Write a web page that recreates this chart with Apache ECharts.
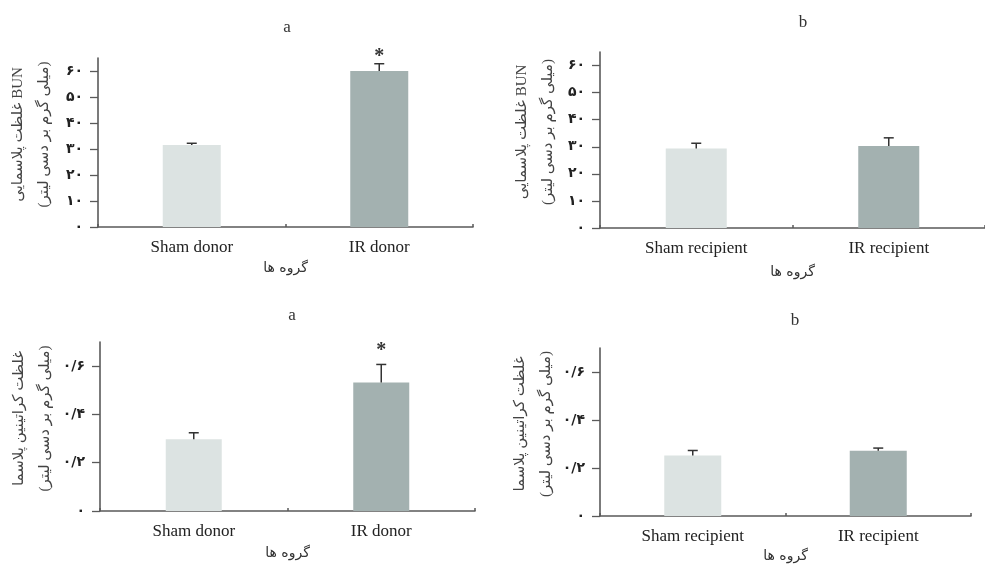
<!DOCTYPE html>
<html>
<head>
<meta charset="utf-8">
<script src="https://cdn.jsdelivr.net/npm/echarts@6/dist/echarts.min.js"></script>
<style>html,body{margin:0;padding:0;background:#fff}#c{width:985px;height:565px}</style>
</head>
<body>
<div id="c"></div>
<script>
// ---- data ----
const donorCategories = ['Sham donor', 'IR donor'];
const recipientCategories = ['Sham recipient', 'IR recipient'];
const bunDonorMean = [31.5, 60.0];
const bunDonorErr = [0.7, 2.8];
const bunRecipientMean = [29.4, 30.3];
const bunRecipientErr = [1.9, 3.0];
const creDonorMean = [0.297, 0.532];
const creDonorErr = [0.027, 0.075];
const creRecipientMean = [0.252, 0.272];
const creRecipientErr = [0.021, 0.011];
const donorStars = ['', '*'];
const recipientStars = ['', ''];
const bunTicks = [0, 10, 20, 30, 40, 50, 60];
const bunTickLabels = ['۰', '۱۰', '۲۰', '۳۰', '۴۰', '۵۰', '۶۰'];
const creTicks = [0, 0.2, 0.4, 0.6];
const creTickLabels = ['۰', '۰/۲', '۰/۴', '۰/۶'];
const panelTitles = ['a', 'b', 'a', 'b'];
const xAxisName = 'گروه ها';
const bunAxisName = 'غلظت پلاسمایی BUN\n(میلی گرم بر دسی لیتر)';
const creAxisName = 'غلظت کراتینین پلاسما\n(میلی گرم بر دسی لیتر)';

// ---- style ----
const barColors = ['#dce3e2', '#a3b1b0'];
const axisColor = '#5a5a5a';
const serif = "'Liberation Serif','DejaVu Serif','DejaVu Sans',serif";
const persian = "'DejaVu Sans','Noto Sans',sans-serif";
const persianSerif = "'Liberation Serif','DejaVu Sans',serif";

const panels = [
  {grid:{left:98, top:58, width:375, height:169}, cats:donorCategories, mean:bunDonorMean, err:bunDonorErr, stars:donorStars, max:65, ticks:bunTicks, labels:bunTickLabels, yname:bunAxisName, nameGap:41, xNameGap:34, barW:58, starOff:7, title:[287,28]},
  {grid:{left:600, top:52, width:394, height:176}, cats:recipientCategories, mean:bunRecipientMean, err:bunRecipientErr, stars:recipientStars, max:65, ticks:bunTicks, labels:bunTickLabels, yname:bunAxisName, nameGap:39, xNameGap:37, barW:61, starOff:7, title:[803,23]},
  {grid:{left:100, top:342, width:375, height:169}, cats:donorCategories, mean:creDonorMean, err:creDonorErr, stars:donorStars, max:0.7, ticks:creTicks, labels:creTickLabels, yname:creAxisName, nameGap:42, xNameGap:35, barW:56, starOff:14, title:[292,316]},
  {grid:{left:600, top:348, width:371, height:168}, cats:recipientCategories, mean:creRecipientMean, err:creRecipientErr, stars:recipientStars, max:0.7, ticks:creTicks, labels:creTickLabels, yname:creAxisName, nameGap:41, xNameGap:33, barW:57, starOff:14, title:[795,321]}
];

const grids = [], xAxes = [], yAxes = [], series = [], graphics = [];
panels.forEach((p, i) => {
  grids.push(p.grid);
  xAxes.push({
    type:'category', gridIndex:i, data:p.cats, boundaryGap:true,
    axisLine:{lineStyle:{color:axisColor, width:1.6}},
    axisTick:{show:true, inside:true, length:3, lineStyle:{color:axisColor, width:1.5}},
    axisLabel:{margin:12, fontFamily:serif, fontSize:17, color:'#222'},
    name:xAxisName, nameLocation:'middle', nameGap:p.xNameGap,
    nameTextStyle:{fontFamily:persian, fontSize:14, color:'#333'}
  });
  const ticks = p.ticks, labels = p.labels;
  yAxes.push({
    type:'value', gridIndex:i, min:0, max:p.max,
    splitLine:{show:false},
    axisLine:{show:true, lineStyle:{color:axisColor, width:1.6}},
    axisTick:{show:true, length:8, customValues:ticks, lineStyle:{color:axisColor, width:1.3}},
    axisLabel:{customValues:ticks, margin:15, fontFamily:persian, fontWeight:'bold', fontSize:14, color:'#222',
      formatter:function(v){
        let best = 0;
        ticks.forEach((t, k) => { if (Math.abs(t - v) < Math.abs(ticks[best] - v)) best = k; });
        return labels[best];
      }},
    name:p.yname, nameLocation:'middle', nameGap:p.nameGap, nameRotate:90,
    nameTextStyle:{fontFamily:persianSerif, fontSize:15, color:'#444', lineHeight:26, align:'center', padding:[0,0,0,16]}
  });
  series.push({
    type:'bar', xAxisIndex:i, yAxisIndex:i, barWidth:p.barW, silent:true,
    data:p.mean.map((v, k) => ({value:v, itemStyle:{color:barColors[k]}}))
  });
  const stars = p.stars, starOff = p.starOff;
  series.push({
    type:'custom', xAxisIndex:i, yAxisIndex:i, silent:true, z:5,
    data:p.mean.map((v, k) => [k, v, p.err[k]]),
    renderItem:function(params, api){
      const x = api.value(0), m = api.value(1), e = api.value(2);
      const p0 = api.coord([x, m]);
      const p1 = api.coord([x, m + e]);
      const children = [
        {type:'line', shape:{x1:p0[0], y1:p0[1], x2:p1[0], y2:p1[1]}, style:{stroke:'#333', lineWidth:1.5}},
        {type:'line', shape:{x1:p1[0]-5, y1:p1[1], x2:p1[0]+5, y2:p1[1]}, style:{stroke:'#333', lineWidth:1.5}}
      ];
      const s = stars[params.dataIndex];
      if (s) children.push({type:'text', style:{text:s, x:p1[0], y:p1[1]-starOff, textAlign:'center', textVerticalAlign:'middle', font:'bold 20px ' + serif, fill:'#333'}});
      return {type:'group', children:children};
    }
  });
  graphics.push({type:'text', x:p.title[0], y:p.title[1], style:{text:panelTitles[i], textAlign:'center', textVerticalAlign:'middle', font:'17px ' + serif, fill:'#333'}});
});

const chart = echarts.init(document.getElementById('c'), null, {renderer:'canvas'});
chart.setOption({
  animation:false,
  backgroundColor:'#fff',
  grid:grids, xAxis:xAxes, yAxis:yAxes, series:series, graphic:graphics
});
</script>
</body>
</html>
